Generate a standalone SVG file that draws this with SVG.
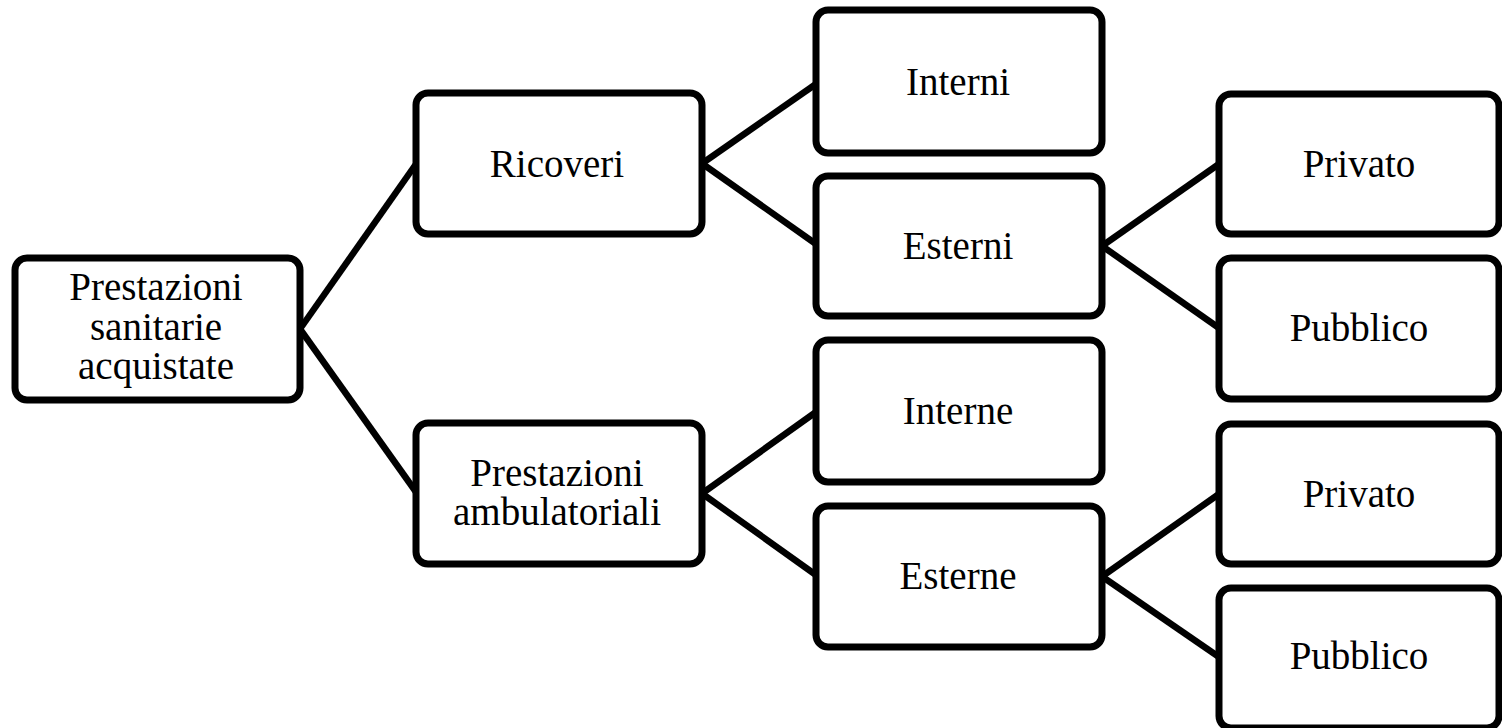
<svg xmlns="http://www.w3.org/2000/svg" width="1502" height="728" viewBox="0 0 1502 728">
<style>
.box{fill:#fff;stroke:#000;stroke-width:7}
.lbl{font-family:"Liberation Serif","Times New Roman",serif;font-size:39px;fill:#000;text-anchor:middle}
.conn line{stroke:#000;stroke-width:6.5;stroke-linecap:butt}
</style>
<rect width="1502" height="728" fill="#fff"/>
<g id="connectors" class="conn">
<line x1="300" y1="329" x2="416" y2="164"/>
<line x1="300" y1="329" x2="416" y2="492"/>
<line x1="702" y1="163.5" x2="816" y2="84"/>
<line x1="702" y1="163.5" x2="816" y2="244"/>
<line x1="702" y1="493.5" x2="816" y2="412"/>
<line x1="702" y1="493.5" x2="816" y2="575"/>
<line x1="1102" y1="246" x2="1219" y2="164"/>
<line x1="1102" y1="246" x2="1219" y2="328"/>
<line x1="1102" y1="576.5" x2="1219" y2="494"/>
<line x1="1102" y1="576.5" x2="1219" y2="657"/>
</g>
<g id="n-root"><rect class="box" x="15" y="258" width="285" height="142" rx="12"/>
<text class="lbl" x="156" y="300">Prestazioni</text><text class="lbl" x="156" y="340">sanitarie</text><text class="lbl" x="156" y="379">acquistate</text></g>
<g id="n-ricoveri"><rect class="box" x="416" y="93" width="286" height="141" rx="12"/>
<text class="lbl" x="557" y="177">Ricoveri</text></g>
<g id="n-ambulatoriali"><rect class="box" x="416" y="423" width="286" height="141" rx="12"/>
<text class="lbl" x="557" y="486">Prestazioni</text><text class="lbl" x="557" y="525">ambulatoriali</text></g>
<g id="n-interni"><rect class="box" x="816" y="10" width="286" height="143" rx="12"/>
<text class="lbl" x="958" y="95">Interni</text></g>
<g id="n-esterni"><rect class="box" x="816" y="176" width="286" height="140" rx="12"/>
<text class="lbl" x="958" y="259">Esterni</text></g>
<g id="n-interne"><rect class="box" x="816" y="340" width="286" height="142" rx="12"/>
<text class="lbl" x="958" y="424">Interne</text></g>
<g id="n-esterne"><rect class="box" x="816" y="506" width="286" height="141" rx="12"/>
<text class="lbl" x="958" y="589">Esterne</text></g>
<g id="n-privato1"><rect class="box" x="1219" y="94" width="280" height="140" rx="12"/>
<text class="lbl" x="1359" y="177">Privato</text></g>
<g id="n-pubblico1"><rect class="box" x="1219" y="258" width="280" height="141" rx="12"/>
<text class="lbl" x="1359" y="341">Pubblico</text></g>
<g id="n-privato2"><rect class="box" x="1219" y="424" width="280" height="140" rx="12"/>
<text class="lbl" x="1359" y="507">Privato</text></g>
<g id="n-pubblico2"><rect class="box" x="1219" y="588" width="280" height="140" rx="12"/>
<text class="lbl" x="1359" y="669">Pubblico</text></g>
</svg>
